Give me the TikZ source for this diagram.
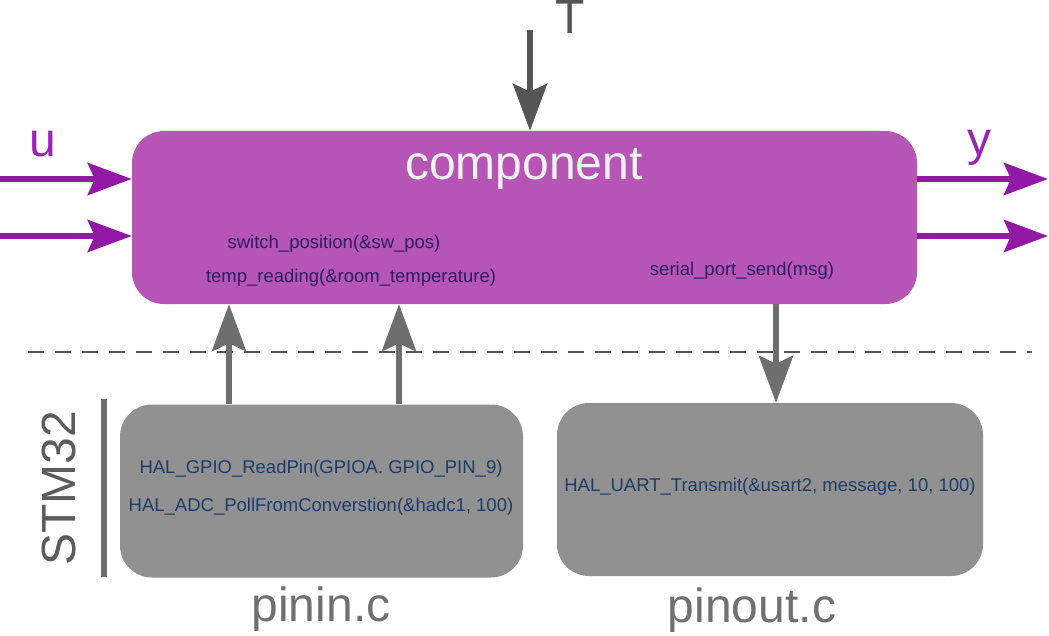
\documentclass[tikz,border=0pt]{standalone}
\usepackage{fontspec}
\setmainfont{Liberation Sans}
\usetikzlibrary{arrows.meta}
\definecolor{boxpurple}{RGB}{183,85,183}
\definecolor{arrowpurple}{RGB}{146,24,166}
\definecolor{labelpurple}{RGB}{152,38,178}
\definecolor{codenavy}{RGB}{42,30,92}
\definecolor{graybox}{RGB}{145,145,145}
\definecolor{codeblue}{RGB}{30,60,105}
\definecolor{darkarrow}{RGB}{85,85,85}
\definecolor{midarrow}{RGB}{110,110,110}
\definecolor{labelgray}{RGB}{112,112,112}
\definecolor{stmgray}{RGB}{92,92,92}
\definecolor{compwhite}{RGB}{242,242,242}
\begin{document}
\begin{tikzpicture}[x=1pt,y=-1pt,
  mainbox/.style={rectangle, rounded corners=32pt, fill=boxpurple, draw=none,
    minimum width=785pt, minimum height=173pt, inner sep=0pt},
  halbox/.style={rectangle, rounded corners=32pt, fill=graybox, draw=none,
    minimum height=173pt, inner sep=0pt},
  bigtext/.style={font=\fontsize{48}{56}\selectfont, inner sep=0pt, anchor=base},
  codetext/.style={font=\fontsize{18.5}{22}\selectfont, inner sep=0pt, anchor=base},
  purplearrow/.style={draw=arrowpurple, line width=6pt,
    -{Stealth[length=44pt, width=32pt, inset=7pt]}},
  grayarrow/.style={draw=midarrow, line width=6pt,
    -{Stealth[length=47pt, width=34pt, inset=8pt]}},
  darkgrayarrow/.style={draw=darkarrow, line width=6pt,
    -{Stealth[length=47pt, width=34pt, inset=8pt]}}
]
\useasboundingbox (0,0) rectangle (1049,635);

% main component block
\node[mainbox] (main) at (524.5,217.5) {};
\node[bigtext, text=compwhite] (comp) at (524,179) {component};
\node[codetext, text=codenavy] (sw) at (334,248) {switch\_position(\&sw\_pos)};
\node[codetext, text=codenavy] (temp) at (351,282) {temp\_reading(\&room\_temperature)};
\node[codetext, text=codenavy] (serial) at (742,275) {serial\_port\_send(msg)};

% STM32 HAL blocks
\node[halbox, minimum width=403pt] (pinin) at (321.5,491) {};
\node[halbox, minimum width=426pt] (pinout) at (770,489.5) {};
\node[codetext, text=codeblue] (gpio) at (321,473) {HAL\_GPIO\_ReadPin(GPIOA. GPIO\_PIN\_9)};
\node[codetext, text=codeblue] (adc) at (321,511) {HAL\_ADC\_PollFromConverstion(\&hadc1, 100)};
\node[codetext, text=codeblue] (uart) at (770,491) {HAL\_UART\_Transmit(\&usart2, message, 10, 100)};

% labels
\node[bigtext, text=labelpurple] (ulab) at (43,156) {u};
\node[bigtext, text=labelpurple] (ylab) at (979,155) {y};
\node[bigtext, text=darkarrow] (tlab) at (570,33) {T};
\node[bigtext, text=labelgray] (pininlab) at (321,621) {pinin.c};
\node[bigtext, text=labelgray] (pinoutlab) at (752,622) {pinout.c};
\node[font=\fontsize{48}{56}\selectfont, text=stmgray, inner sep=0pt, rotate=90] (stm) at (59,488) {STM32};

% separators
\draw[draw=midarrow, line width=6pt] (104,399) -- (104,577);
\draw[draw=darkarrow, line width=2pt, dash pattern=on 16pt off 11pt] (28,352) -- (1032,352);

% input / output arrows
\coordinate (uin1) at (0,179);
\coordinate (uin2) at (0,236);
\coordinate (yout1) at (1048,179);
\coordinate (yout2) at (1048,236);
\draw[purplearrow] (uin1) -- (uin1 -| main.west);
\draw[purplearrow] (uin2) -- (uin2 -| main.west);
\draw[purplearrow] (yout1 -| main.east) -- (yout1);
\draw[purplearrow] (yout2 -| main.east) -- (yout2);

% T input
\coordinate (tstart) at (530,30);
\draw[darkgrayarrow] (tstart) -- (tstart |- main.north);

% HAL connections
\coordinate (up1) at (229,0);
\coordinate (up2) at (399,0);
\coordinate (down1) at (776,0);
\draw[grayarrow] (up1 |- pinin.north) -- (up1 |- main.south);
\draw[grayarrow] (up2 |- pinin.north) -- (up2 |- main.south);
\draw[grayarrow] (down1 |- main.south) -- (down1 |- pinout.north);
\end{tikzpicture}
\end{document}
